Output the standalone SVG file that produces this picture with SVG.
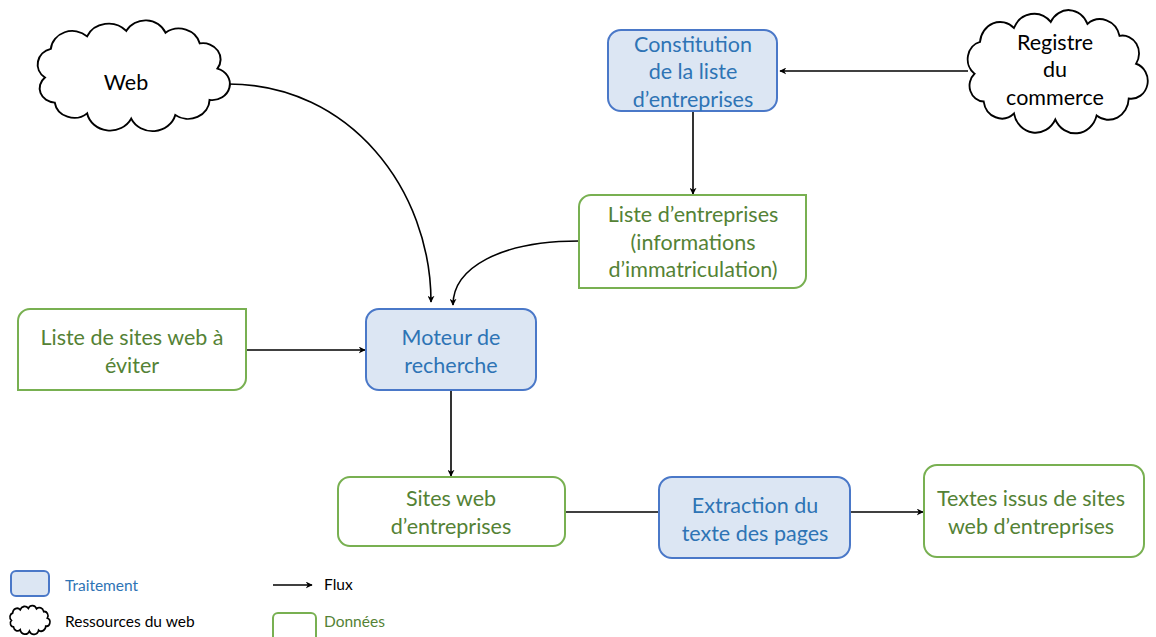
<svg xmlns="http://www.w3.org/2000/svg" width="1156" height="637" viewBox="0 0 1156 637">
<style>
.proc{fill:#dce6f3;stroke:#4a78c8;stroke-width:2}
.data{fill:#fff;stroke:#78b051;stroke-width:2}
.cloud{fill:#fff;stroke:#000;stroke-width:2}
.t{font-family:Lato,"Liberation Sans",sans-serif;font-size:21.5px;text-anchor:middle}
.tb{fill:#2e74b5}
.tg{fill:#548235}
.tk{fill:#000}
.lg{font-family:Lato,"Liberation Sans",sans-serif;font-size:15.5px}
.c{fill:none;stroke:#000;stroke-width:1.6}
</style>
<defs>
<marker id="arr" viewBox="0 0 10 10" refX="9" refY="5" markerWidth="7" markerHeight="7" orient="auto" markerUnits="userSpaceOnUse">
<path d="M0,0 L10,5 L0,10 L3,5 Z" fill="#000"/>
</marker>
<path id="cloudp" d="M12,60 A18,18 0 0 1 18,28 A22,22 0 0 1 55,14 A24,24 0 0 1 95,8 A22,22 0 0 1 135,10 A22,22 0 0 1 170,22 A18,18 0 0 1 188,50 A18,18 0 0 1 180,85 A22,22 0 0 1 145,102 A24,24 0 0 1 100,106 A24,24 0 0 1 55,100 A20,20 0 0 1 22,88 A16,16 0 0 1 12,60 Z"/>
</defs>

<g id="connectors">
<line class="c" x1="968" y1="71" x2="780" y2="71" marker-end="url(#arr)"/>
<line class="c" x1="693" y1="111" x2="693" y2="194" marker-end="url(#arr)"/>
<path class="c" d="M228,84 C350,84 431,190 431,302" marker-end="url(#arr)"/>
<path class="c" d="M579,241 C500,241 453,268 453,305" marker-end="url(#arr)"/>
<line class="c" x1="246" y1="350" x2="365" y2="350" marker-end="url(#arr)"/>
<line class="c" x1="451" y1="390" x2="451" y2="476" marker-end="url(#arr)"/>
<line class="c" x1="565" y1="512" x2="659" y2="512"/>
<line class="c" x1="850" y1="512" x2="923" y2="512" marker-end="url(#arr)"/>
</g>

<g id="web">
<use href="#cloudp" class="cloud" transform="translate(33.2,23.8) scale(0.98,0.895)"/>
<text class="t tk" x="126" y="90">Web</text>
</g>

<g id="registre">
<use href="#cloudp" class="cloud" transform="translate(963.5,14) scale(0.918,0.995)"/>
<text class="t tk" x="1055" y="50">Registre</text>
<text class="t tk" x="1055" y="77">du</text>
<text class="t tk" x="1055" y="105">commerce</text>
</g>

<g id="constitution">
<rect class="proc" x="608" y="30" width="169" height="81" rx="13"/>
<text class="t tb" x="693" y="52">Constitution</text>
<text class="t tb" x="693" y="79">de la liste</text>
<text class="t tb" x="693" y="107">d’entreprises</text>
</g>

<g id="liste-entreprises">
<path class="data" d="M591,195 H806 V276 A12,12 0 0 1 794,288 H579 V207 A12,12 0 0 1 591,195 Z"/>
<text class="t tg" x="693" y="222">Liste d’entreprises</text>
<text class="t tg" x="693" y="250">(informations</text>
<text class="t tg" x="693" y="277">d’immatriculation)</text>
</g>

<g id="liste-sites">
<path class="data" d="M30,309 H246 V378 A12,12 0 0 1 234,390 H18 V321 A12,12 0 0 1 30,309 Z"/>
<text class="t tg" x="132" y="345">Liste de sites web à</text>
<text class="t tg" x="132" y="373">éviter</text>
</g>

<g id="moteur">
<rect class="proc" x="366" y="309" width="170" height="81" rx="13"/>
<text class="t tb" x="451" y="345">Moteur de</text>
<text class="t tb" x="451" y="373">recherche</text>
</g>

<g id="sites-web">
<rect class="data" x="338" y="477" width="227" height="69" rx="12"/>
<text class="t tg" x="451" y="506">Sites web</text>
<text class="t tg" x="451" y="534">d’entreprises</text>
</g>

<g id="extraction">
<rect class="proc" x="659" y="477" width="191" height="81" rx="13"/>
<text class="t tb" x="755" y="513">Extraction du</text>
<text class="t tb" x="755" y="541">texte des pages</text>
</g>

<g id="textes">
<rect class="data" x="924" y="465" width="220" height="92" rx="13"/>
<text class="t tg" x="1031" y="506">Textes issus de sites</text>
<text class="t tg" x="1031" y="534">web d’entreprises</text>
</g>

<g id="legend">
<rect class="proc" x="11" y="571" width="38" height="25" rx="5"/>
<text class="lg" x="65" y="591" fill="#2e74b5">Traitement</text>
<use href="#cloudp" class="cloud" transform="translate(9,606.5) scale(0.204,0.232)" style="stroke-width:8"/>
<text class="lg" x="65" y="627" fill="#000">Ressources du web</text>
<line class="c" x1="273" y1="585" x2="312" y2="585" marker-end="url(#arr)"/>
<text class="lg" x="324" y="590" fill="#000">Flux</text>
<rect class="data" x="273" y="613" width="43" height="34" rx="5"/>
<text class="lg" x="324" y="627" fill="#548235">Données</text>
</g>
</svg>
